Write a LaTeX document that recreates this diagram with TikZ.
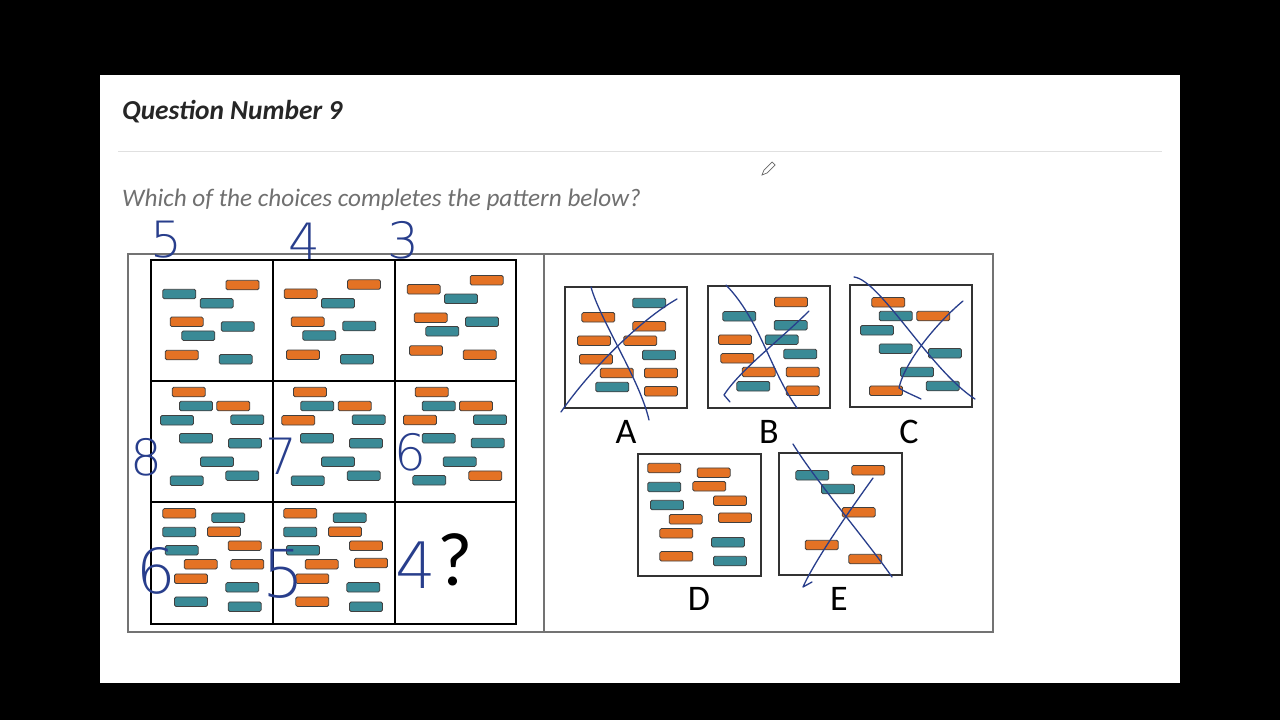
\documentclass[tikz,border=0pt]{standalone}
\usepackage{fontspec}
\setmainfont{Carlito}
\newfontfamily\hand{DejaVu Sans ExtraLight}
\definecolor{orf}{RGB}{228,114,36}
\definecolor{tlf}{RGB}{58,138,150}
\definecolor{pen}{RGB}{40,62,140}
\definecolor{sub}{RGB}{112,112,112}
\tikzset{
  orb/.style={fill=orf,draw=black!75,line width=0.8pt,rounded corners=1.5pt},
  tlb/.style={fill=tlf,draw=black!75,line width=0.8pt,rounded corners=1.5pt},
  optbox/.style={draw=black!80,line width=1.5pt},
  penline/.style={draw=pen,line width=1.3pt,line cap=round,line join=round},
  digit/.style={text=pen,font=\hand\fontsize{50}{50}\selectfont,inner sep=0pt},
  letter/.style={font=\fontsize{36}{36}\selectfont,inner sep=0pt}
}
\newcommand{\orlist}[1]{\foreach \px/\py in {#1} {\draw[orb] (\px-16.5,\py-4.75) rectangle ++(33,9.5);}}
\newcommand{\tllist}[1]{\foreach \px/\py in {#1} {\draw[tlb] (\px-16.5,\py-4.75) rectangle ++(33,9.5);}}
\begin{document}
\begin{tikzpicture}[x=1pt,y=-1pt]
\fill[black] (0,0) rectangle (1280,720);
\useasboundingbox (0,0) rectangle (1280,720);
\fill[white] (100,75) rectangle (1180,683);
% header
\node[anchor=base west,inner sep=0pt,font=\bfseries\itshape\fontsize{27.4}{27.4}\selectfont,text=black!85] (title) at (122,119) {Question Number 9};
\draw[black!12,line width=0.8pt] (118,151) -- (1162,151);
\node[anchor=base west,inner sep=0pt,font=\itshape\fontsize{25.2}{25.2}\selectfont,text=sub] (question) at (122,206) {Which of the choices completes the pattern below?};
% pencil cursor
\draw[black!60,line width=0.7pt] (762,175) -- (764,170) -- (772,162) -- (775,165) -- (767,173) -- cycle;
% frames
\draw[black!55,line width=1.2pt] (128,254) rectangle (993,632);
\draw[black!55,line width=1.2pt] (544,254) -- (544,632);
\draw[black,line width=1.6pt] (151,260) rectangle (516,624);
\draw[black,line width=1.6pt] (273,260) -- (273,624) (395,260) -- (395,624) (151,381) -- (516,381) (151,502) -- (516,502);
% cell 1
\orlist{242.5/285,186.7/321.8,181.7/355}
\tllist{179.3/294,216.7/303.3,237.7/326.5,198.3/335.7,235.7/359.3}
% cell 2
\orlist{364/284.5,300.7/293.7,307.7/321.8,303/354.8}
\tllist{338/303.2,359.3/326,319.3/335.5,357/359.2}
% cell 3
\orlist{486.7/280.2,423.7/289.3,430.7/317.7,426/350.5,479.7/354.8}
\tllist{461/298.8,482/321.8,442.3/331.3}
% cell 4
\orlist{188.7/392,233.3/406}
\tllist{196/406,177/420.3,247.3/419.7,196/438.3,245/443.3,217/461.7,242.3/475.7,186.7/480.7}
% cell 5
\orlist{310/392,354.7/406,298.3/420.3}
\tllist{317.3/406,368.7/419.7,317/438.3,366/443.3,338/461.7,363.7/475.7,307.7/480.7}
% cell 6
\orlist{431.7/392,476/406,420/420,485.3/475.7}
\tllist{438.7/406,490/419.7,438.7/438.3,487.7/443,459.7/461.7,429.3/480.3}
% cell 7
\orlist{179.3/513.3,224/531.7,244.7/545.7,200.7/564.3,247.3/564.3,191/578.7}
\tllist{228.3/517.7,179.3/532,181.7/550.3,242.3/587.3,191/601.7,244.7/606.7}
% cell 8
\orlist{300.3/513.3,345/531.7,366/545.7,321.7/564.3,371/563,312.3/578.7,312.3/601.7}
\tllist{349.7/517.7,300.3/532,303/550.3,363.3/587.3,366/606.7}
% cell 9
\node[inner sep=0pt,font=\fontsize{76}{76}\selectfont] (qmark) at (455,560) {?};
% options
\draw[optbox] (565,287) rectangle (687,408);
\orlist{598.3/317.3,649.3/326.3,594/340.7,640.3/340.7,596/359.3,616.7/373,661/373,661/391.3}
\tllist{649.3/303,659/355,612.3/387}
\draw[optbox] (708,286) rectangle (830,408);
\orlist{791/302,735/339.7,737.3/358.3,758.7/372,802.7/372,802.7/390.7}
\tllist{739.3/316.3,790.7/325.3,781.7/339.7,800.3/354,753.3/386.3}
\draw[optbox] (850,285) rectangle (972,407);
\orlist{888.3/302.3,933.3/316,886/390.7}
\tllist{895.7/316,877/330.3,895.7/348.7,945/353.3,917/372,942.7/386}
\draw[optbox] (638,454) rectangle (761,576);
\orlist{664.3/468,713.7/472.7,709.3/486.3,730/500.7,685.7/519.3,735/517.7,676.3/533.3,676.3/556.3}
\tllist{664.3/487,667/505,728/542.3,730/561}
\draw[optbox] (779,453) rectangle (902,575);
\orlist{868.3/470.3,858.7/512.3,821.7/545,865.3/559}
\tllist{812.3/475.3,838/489}
% option letters
\node[letter] (la) at (626,432) {A};
\node[letter] (lb) at (769,432) {B};
\node[letter] (lc) at (909,432) {C};
\node[letter] (ld) at (699,599) {D};
\node[letter] (le) at (839,599) {E};
% pen crosses
\draw[penline] (591,287) .. controls (600,320) and (640,380) .. (649,420);
\draw[penline] (561,412) .. controls (590,370) and (640,320) .. (677,299);
\draw[penline] (726,285) .. controls (760,320) and (770,370) .. (797,408);
\draw[penline] (809,311) .. controls (780,340) and (740,370) .. (724,395) -- (730,402);
\draw[penline] (854,277) .. controls (880,280) and (930,370) .. (975,399);
\draw[penline] (963,301) .. controls (940,320) and (905,360) .. (899,388) .. controls (905,392) and (915,396) .. (921,399);
\draw[penline] (793,444) .. controls (815,480) and (870,545) .. (892,577);
\draw[penline] (873,478) .. controls (850,510) and (815,560) .. (803,587) -- (812,582);
% handwritten counts
\node[digit] (n1) at (166,240) {5};
\node[digit] (n2) at (304,241) {4};
\node[digit] (n3) at (403,240) {3};
\node[digit] (n4) at (146,457) {8};
\node[digit] (n5) at (281,456) {7};
\node[digit] (n6) at (410,452) {6};
\node[digit,font=\hand\fontsize{62}{62}\selectfont] (n7) at (156,571) {6};
\node[digit,font=\hand\fontsize{66}{66}\selectfont] (n8) at (283,574) {5};
\node[digit,font=\hand\fontsize{64}{64}\selectfont] (n9) at (416,565) {4};
\end{tikzpicture}
\end{document}
